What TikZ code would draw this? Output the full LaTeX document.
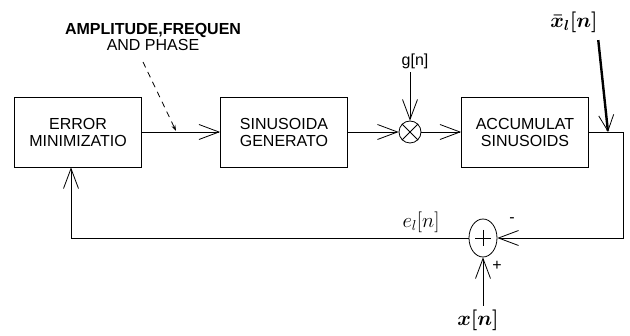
\documentclass[tikz,border=0pt]{standalone}
\usepackage{fontspec}
\setmainfont{Liberation Sans}
\usetikzlibrary{arrows.meta,positioning,shapes.geometric}

\tikzset{
  block/.style={draw, minimum width=127pt, minimum height=70pt, align=center,
    font=\fontsize{16}{17}\selectfont},
  barb/.style={-{Straight Barb[length=20pt,width=15pt,line width=0.8pt]}},
  mixer/.style={draw, circle, minimum size=22pt, inner sep=0pt},
  adder/.style={draw, ellipse, minimum width=28pt, minimum height=38pt, inner sep=0pt},
  sig/.style={font=\fontsize{21}{22}\selectfont},
  boldsig/.style={font=\fontsize{21}{22}\selectfont\boldmath},
}

\begin{document}
\begin{tikzpicture}[x=1pt, y=-1pt, line width=0.8pt]
    \useasboundingbox (0,0) rectangle (630,336);

    \node[block] (err) at (78,132) {ERROR\\MINIMIZATIO};
    \node[block] (gen) at (284,132) {SINUSOIDA\\GENERATO};
    \node[mixer] (mul) at (410,132) {};
    \draw (mul.north west) -- (mul.south east) (mul.north east) -- (mul.south west);
    \node[block] (acc) at (525,132) {ACCUMULAT\\SINUSOIDS};
    \node[adder] (sum) at (483,238) {};
    \draw (sum.center) ++(-8,0) -- ++(16,0) (sum.center) ++(0,-8) -- ++(0,16);

    \node[align=center, font=\fontsize{16}{16}\selectfont] (params) at (153,37)
        {\bfseries AMPLITUDE,FREQUEN\\AND PHASE};
    \node[font=\fontsize{16}{17}\selectfont] (gn) at (415,61) {g[n]};
    \node[boldsig] (xb) at (574,22) {$\bar{x}_l[n]$};
    \node[boldsig] (xn) at (478,320) {$x[n]$};
    \node[sig] (el) at (421,222) {$e_l[n]$};
    \node[font=\fontsize{16}{17}\selectfont] (minus) at (512,220) {-};
    \node[font=\fontsize{16}{17}\selectfont] (plus) at (497,266) {+};

    \coordinate (corner) at (623,132);
    \coordinate (fb) at (71,238);
    \coordinate (tap) at (608,132);
    \coordinate (dstart) at (143,62);
    \coordinate (dend) at (176,131);

    \draw[barb] (err) -- (gen);
    \draw[barb] (gen) -- (mul);
    \draw[barb] (mul) -- (acc);
    \draw[barb] (gn.south -| mul) -- (mul);
    \draw[barb] (acc) -- (corner) |- (sum);
    \draw[barb] (sum) -- (fb) -- (fb |- err.south);
    \draw[barb] (xn.north -| sum) -- (sum);
    \draw[line width=2.4pt, -{Straight Barb[length=16pt,width=15pt,line width=0.8pt]}]
        ([xshift=-3pt,yshift=-4pt]xb.south east) -- (tap);
    \draw[dash pattern=on 6pt off 5pt, -{Stealth[length=6pt,width=4pt]}] (dstart) -- (dend);
\end{tikzpicture}
\end{document}
